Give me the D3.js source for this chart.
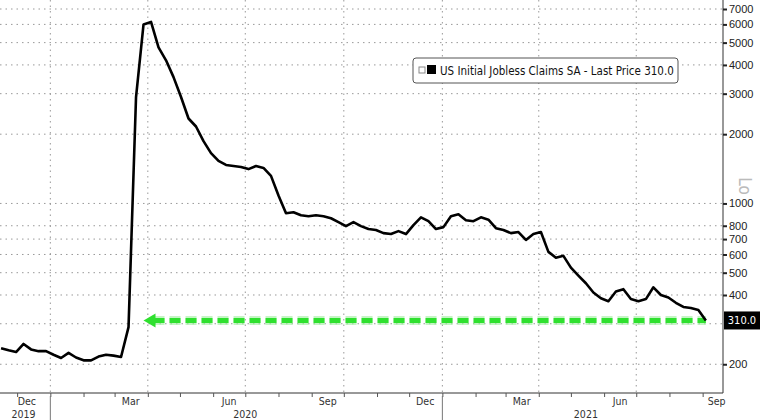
<!DOCTYPE html>
<html><head><meta charset="utf-8">
<script src="https://cdn.jsdelivr.net/npm/d3@7"></script>
<style>body{margin:0;background:#fff}svg{display:block;font-family:"Liberation Sans Narrow","DejaVu Sans Condensed",Arial,sans-serif}</style>
</head><body><svg id="c" width="760" height="420"></svg>
<script>
const startDate = "2019-11-16";
const claims = [235,230,226,245,232,228,228,220,213,224,214,208,208,216,220,218,215,290,
2900,6000,6150,4770,4190,3540,2900,2340,2160,1865,1655,1530,1470,1455,1440,1410,1455,1427,1318,1082,906,915,888,880,888,880,862,830,797,830,797,774,766,743,736,758,736,805,870,837,774,789,880,897,845,837,870,850,781,766,743,751,694,736,751,616,581,592,526,486,450,410,387,376,414,424,384,376,384,432,400,390,370,355,351,344,310];
const yTicks = [200,300,400,500,600,700,800,1000,2000,3000,4000,5000,6000,7000];
const yLabels = [200,400,500,600,700,800,1000,2000,3000,4000,5000,6000,7000];
const monthLabels = ["Dec","Mar","Jun","Sep","Dec","Mar","Jun","Sep"];
const monthLabelDates = ["2019-12-10","2020-03-16","2020-06-16","2020-09-16","2020-12-16","2021-03-16","2021-06-16","2021-09-14"];
const years = ["2019","2020","2021"];
const yearLabelDates = ["2019-12-07","2020-07-01","2021-05-15"];
const lastPrice = 310.0;
const title = "US Initial Jobless Claims SA - Last Price 310.0";

const svg = d3.select("#c");
const R = 723, B = 393;
const x = d3.scaleTime().domain([new Date(2019,10,15), new Date(2021,8,20)]).range([0, R]);
const y = d3.scaleLog().domain([150, 7660]).range([B, 0]);
const s0 = d3.timeParse("%Y-%m-%d")(startDate);
const data = claims.map((v,i)=>({d:d3.timeDay.offset(s0,7*i), v}));
const P = d3.timeParse("%Y-%m-%d");

const g = svg.append("g");
g.selectAll(".hg").data(yTicks).join("line").attr("x1",0).attr("x2",R)
 .attr("y1",d=>y(d)).attr("y2",d=>y(d)).attr("stroke","#999").attr("stroke-dasharray","1.5,4");
const qs = d3.timeMonth.every(3).range(new Date(2020,0,1), new Date(2021,8,20));
g.selectAll(".vg").data(qs).join("line").attr("x1",d=>x(d)).attr("x2",d=>x(d))
 .attr("y1",0).attr("y2",B).attr("stroke","#999").attr("stroke-dasharray","1.5,4");

const yAxis = d3.axisRight(y).tickValues(yLabels).tickFormat(d3.format("d")).tickSize(4);
const ya = svg.append("g").attr("transform",`translate(${R},0)`).call(yAxis);
ya.select(".domain").attr("d",`M0,0V${B}`).attr("stroke","#333");
ya.selectAll("text").attr("font-size",11).attr("fill","#222").attr("x",6);
ya.selectAll(".tick line").attr("stroke","#222").attr("stroke-width",2);

const xa = svg.append("g").attr("transform",`translate(0,${B})`)
 .call(d3.axisBottom(x).ticks(d3.timeMonth.every(1)).tickFormat("").tickSize(4));
xa.select(".domain").attr("d",`M0,0H${R}`).attr("stroke","#333");
xa.selectAll(".tick line").attr("stroke","#555");
svg.selectAll(".ml").data(monthLabels).join("text").attr("x",(d,i)=>x(P(monthLabelDates[i])))
 .attr("y",405).attr("text-anchor","middle").attr("font-size",10.5).attr("fill","#333").text(d=>d);
svg.selectAll(".yl").data(years).join("text").attr("x",(d,i)=>x(P(yearLabelDates[i])))
 .attr("y",418).attr("text-anchor","middle").attr("font-size",10.5).attr("fill","#333").text(d=>d);
[new Date(2020,0,1), new Date(2021,0,1)].forEach(d=>svg.append("line").attr("x1",x(d)).attr("x2",x(d))
 .attr("y1",B+3).attr("y2",420).attr("stroke","#777"));

const yl = y(lastPrice);
const ax0 = x(new Date(2020,2,28)), ax1 = x(data[data.length-1].d);
svg.append("line").attr("x1",ax0+10).attr("x2",ax1).attr("y1",yl).attr("y2",yl)
 .attr("stroke","#9ef09e").attr("stroke-width",9).attr("stroke-dasharray","11,5").attr("opacity",0.6);
svg.append("line").attr("x1",ax0+10).attr("x2",ax1).attr("y1",yl).attr("y2",yl)
 .attr("stroke","#2fe02f").attr("stroke-width",5).attr("stroke-dasharray","11,5");
svg.append("path").attr("d",`M${ax0},${yl}l12,-7v14z`).attr("fill","#2fe02f");

svg.append("path").datum(data).attr("fill","none").attr("stroke","#000").attr("stroke-width",2.6)
 .attr("stroke-linejoin","round").attr("d",d3.line().x(d=>x(d.d)).y(d=>y(d.v)));

const lg = svg.append("g").attr("transform","translate(413,58)");
lg.append("rect").attr("width",265).attr("height",25).attr("rx",3).attr("fill","#fff").attr("stroke","#555");
lg.append("rect").attr("x",6).attr("y",9).attr("width",6).attr("height",6).attr("fill","none").attr("stroke","#888");
lg.append("rect").attr("x",14).attr("y",7).attr("width",9).attr("height",9).attr("fill","#000");
lg.append("text").attr("x",27).attr("y",17).attr("font-size",11.5).attr("fill","#111").text(title);

svg.append("rect").attr("x",724).attr("y",yl-9).attr("width",36).attr("height",18).attr("fill","#000");
svg.append("text").attr("x",742).attr("y",yl+4).attr("text-anchor","middle").attr("font-size",11).attr("fill","#fff").text(lastPrice.toFixed(1));
svg.append("text").attr("transform","translate(739,186) rotate(90)").attr("text-anchor","middle")
 .attr("font-size",17).attr("fill","#bbb").text("Lo");
</script></body></html>
